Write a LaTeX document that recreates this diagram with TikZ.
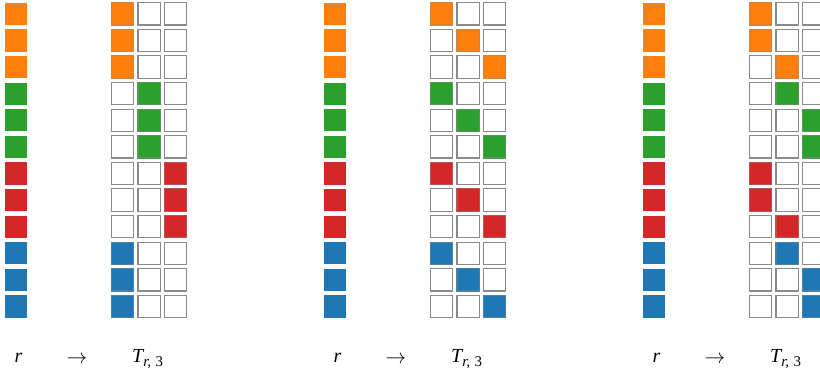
\documentclass[tikz,border=0pt]{standalone}
\usepackage{fontspec}
\newfontfamily\lblfont{Liberation Serif}
\definecolor{tabO}{HTML}{FF7F0E}
\definecolor{tabG}{HTML}{2CA02C}
\definecolor{tabR}{HTML}{D62728}
\definecolor{tabB}{HTML}{1F77B4}
\definecolor{cellEdge}{HTML}{8A8A8A}
\newcommand{\subsc}[1]{\raisebox{-4.6bp}{\fontsize{15}{17}\selectfont #1}}
\begin{document}
\begin{tikzpicture}[x=1bp,y=-1bp,
  emptycell/.style={draw=cellEdge,line width=1.1bp,fill=white},
  fullcell/.style={draw=cellEdge!45!#1,line width=1.1bp,fill=#1},
  lbl/.style={anchor=base,inner sep=0pt,font=\lblfont\fontsize{20}{23}\selectfont},
  arrowlbl/.style={anchor=base,inner sep=0pt,font=\fontsize{20.74}{25}\selectfont}]
\useasboundingbox (0,0) rectangle (820,375);
\clip (0,0) rectangle (820,375);
\def\pitch{26.6}
\def\sz{22.3}
\foreach \k in {0,1,2} {
  \foreach \i in {0,...,11} {
    \pgfmathsetmacro\px{5+319*\k}
    \pgfmathsetmacro\py{2.7+\pitch*\i}
    \pgfmathtruncatemacro\ci{int(\i/3)}
    \edef\cc{\ifcase\ci tabO\or tabG\or tabR\or tabB\fi}
    % which of the three slots receives the element
    \ifcase\k
      \pgfmathtruncatemacro\col{mod(int(\i/3),3)}
    \or
      \pgfmathtruncatemacro\col{mod(\i,3)}
    \or
      \pgfmathtruncatemacro\col{mod(int(\i/2),3)}
    \fi
    \fill[\cc] (\px,\py) rectangle ++(\sz,\sz);
    \foreach \c in {0,1,2} {
      \pgfmathsetmacro\gx{\px+\pitch*(4+\c)}
      \ifnum\c=\col
        \filldraw[fullcell=\cc] (\gx,\py) rectangle ++(\sz,\sz);
      \else
        \filldraw[emptycell] (\gx,\py) rectangle ++(\sz,\sz);
      \fi
    }
  }
  \node[lbl] (src\k) at ({18.5+319*\k},362) {\itshape r};
  \node[arrowlbl] (arr\k) at ({77+319*\k},363) {$\rightarrow$};
  \node[lbl,anchor=base west] (dst\k) at ({132+319*\k},362)
    {\itshape T\subsc{r,\hspace{0.3em}\upshape 3}};
}
\end{tikzpicture}
\end{document}
